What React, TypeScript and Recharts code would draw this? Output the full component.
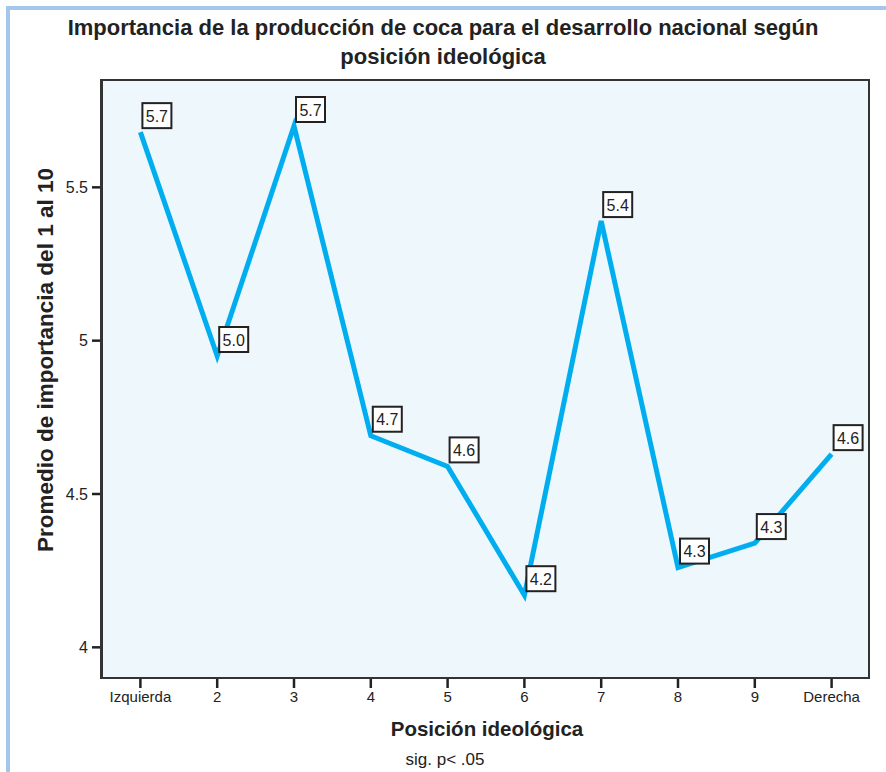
import React from "react";
import { LineChart, Line, XAxis, YAxis, CartesianGrid, LabelList } from "recharts";

const CATEGORIES = ["Izquierda", "2", "3", "4", "5", "6", "7", "8", "9", "Derecha"];
const MEANS = [5.68, 4.95, 5.7, 4.69, 4.59, 4.17, 5.39, 4.26, 4.34, 4.63];
const Y_TICKS = [4, 4.5, 5, 5.5];

const LINE = "#00aeef";
const INK = "#222222";
const PLOT_BG = "#edf7fc";
const FRAME = "#a3c6e9";
const FONT = "'Liberation Sans', Arial, Helvetica, sans-serif";

const data = CATEGORIES.map((cat, i) => ({ cat, mean: MEANS[i] }));

function ValueBox(props: any) {
  const { x, y, value } = props;
  if (x == null || y == null) return null;
  return (
    <g>
      <rect x={x + 2} y={y - 29} width={29} height={25} fill="#ffffff" stroke={INK} strokeWidth={2} />
      <text
        x={x + 16.5}
        y={y - 16}
        textAnchor="middle"
        dominantBaseline="central"
        fontSize={16}
        fontFamily={FONT}
        fill={INK}
      >
        {Number(value).toFixed(1)}
      </text>
    </g>
  );
}

export default function App() {
  return (
    <div
      style={{
        position: "absolute",
        left: 0,
        top: 0,
        width: 886,
        height: 772,
        background: "#fff",
        fontFamily: FONT,
        color: INK,
        overflow: "hidden",
      }}
    >
      {/* light blue page frame */}
      <div
        style={{
          position: "absolute",
          left: 6,
          top: 6,
          width: 880,
          height: 766,
          borderLeft: `4px solid ${FRAME}`,
          borderTop: `4px solid ${FRAME}`,
        }}
      />

      <div
        style={{
          position: "absolute",
          left: 0,
          width: 886,
          top: 13,
          textAlign: "center",
          fontWeight: "bold",
          fontSize: 22,
          lineHeight: "29px",
        }}
      >
        Importancia de la producción de coca para el desarrollo nacional según
        <br />
        posición ideológica
      </div>

      <div style={{ position: "absolute", left: 0, top: 0 }}>
        <LineChart width={886} height={772} data={data} margin={{ top: 80, right: 16, bottom: 64, left: 42 }}>
          <CartesianGrid horizontal={false} vertical={false} fill={PLOT_BG} />
          <XAxis
            dataKey="cat"
            interval={0}
            padding={{ left: 38.4, right: 38.4 }}
            height={30}
            stroke={INK}
            tickSize={10}
            tickMargin={3}
            tick={{ fontSize: 15, fill: INK, fontFamily: FONT }}
            tickLine={{ stroke: INK, strokeWidth: 2.5 }}
            axisLine={{ stroke: "#333", strokeWidth: 2 }}
          />
          <YAxis
            width={60}
            domain={[3.9, 5.85]}
            ticks={Y_TICKS}
            stroke={INK}
            tickFormatter={(v) => String(v)}
            tickSize={10}
            tickMargin={4}
            tick={{ fontSize: 16, fill: INK, fontFamily: FONT }}
            tickLine={{ stroke: INK, strokeWidth: 2.5 }}
            axisLine={{ stroke: "#333", strokeWidth: 2 }}
          />
          <Line
            dataKey="mean"
            stroke={LINE}
            strokeWidth={5}
            strokeLinejoin="miter"
            type="linear"
            dot={false}
            activeDot={false}
            isAnimationActive={false}
          >
            <LabelList dataKey="mean" content={<ValueBox />} />
          </Line>
        </LineChart>
      </div>

      {/* plot frame */}
      <div
        style={{
          position: "absolute",
          left: 100,
          top: 79,
          width: 770,
          height: 600,
          boxSizing: "border-box",
          border: "2px solid #333",
          pointerEvents: "none",
        }}
      />

      <div
        style={{
          position: "absolute",
          left: 46,
          top: 360,
          transform: "translate(-50%, -50%) rotate(-90deg)",
          whiteSpace: "nowrap",
          fontWeight: "bold",
          fontSize: 22.5,
        }}
      >
        Promedio de importancia del 1 al 10
      </div>

      <div
        style={{
          position: "absolute",
          left: 387,
          width: 200,
          top: 717,
          textAlign: "center",
          fontWeight: "bold",
          fontSize: 20.5,
          whiteSpace: "nowrap",
        }}
      >
        Posición ideológica
      </div>

      <div
        style={{
          position: "absolute",
          left: 345,
          width: 200,
          top: 750,
          textAlign: "center",
          fontSize: 17,
          whiteSpace: "nowrap",
        }}
      >
        sig. p&lt; .05
      </div>
    </div>
  );
}
